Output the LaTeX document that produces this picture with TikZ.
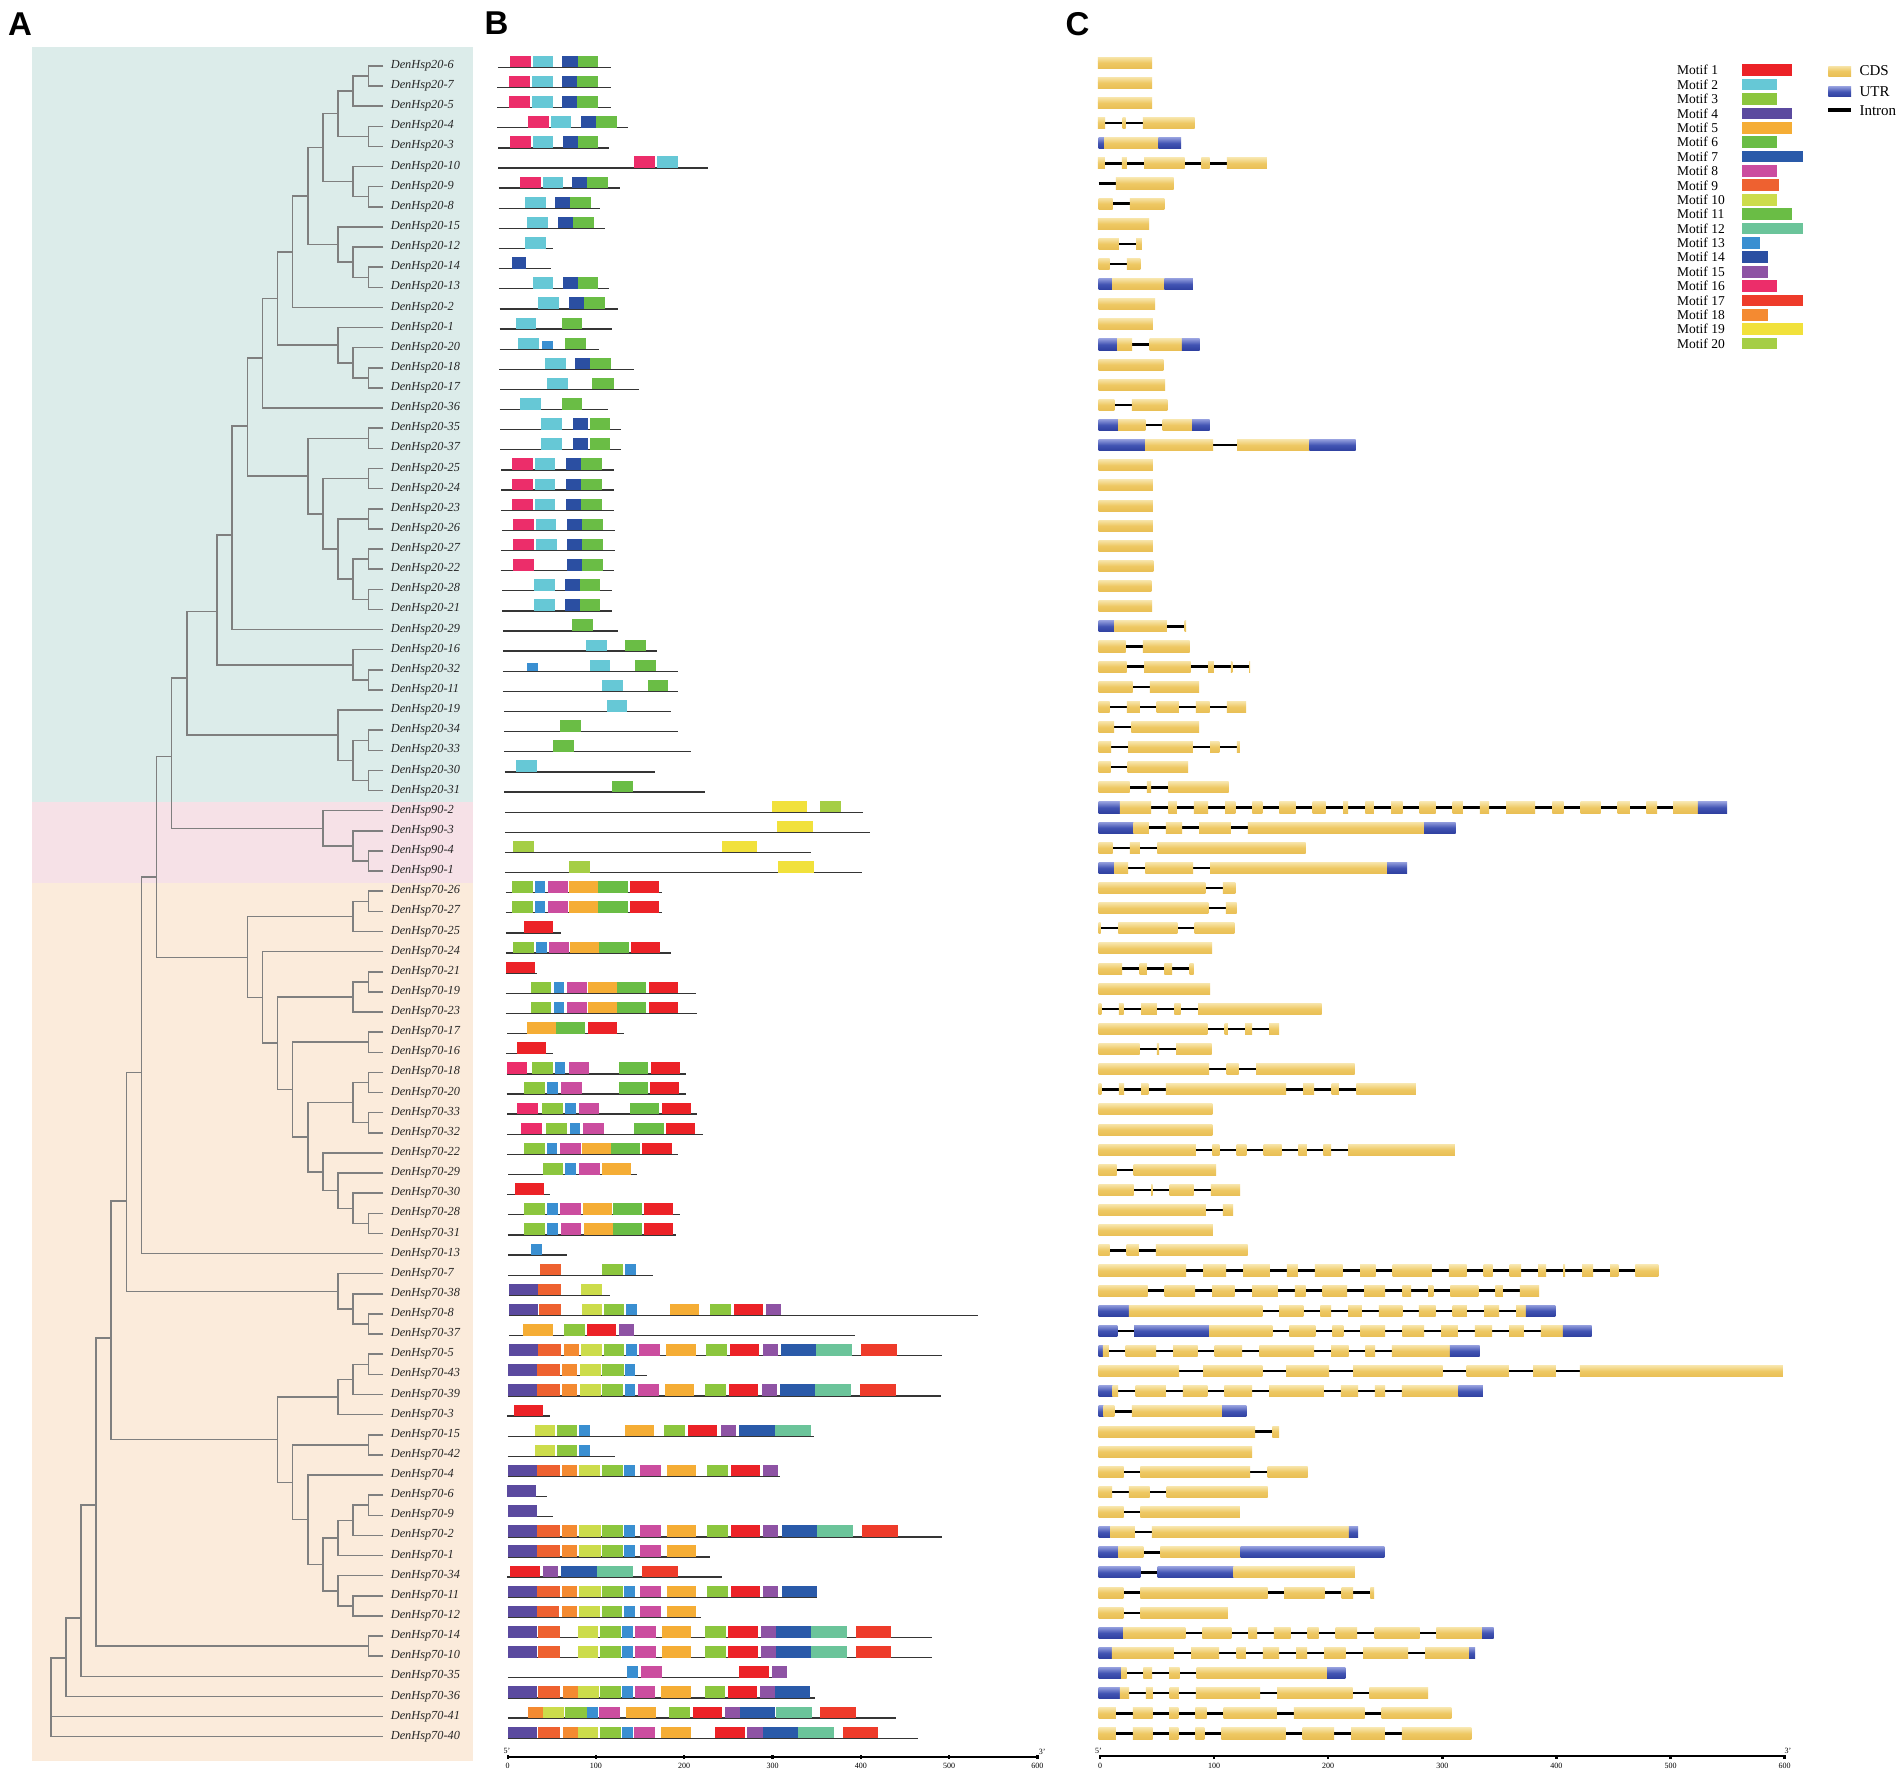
\documentclass[tikz,border=0pt]{standalone}
\usepackage{fontspec}
\setmainfont{Liberation Serif}
\setsansfont{Liberation Sans}
\definecolor{cP}{HTML}{EC2D6A}
\definecolor{cC}{HTML}{66C8D6}
\definecolor{cN}{HTML}{2B4FA2}
\definecolor{cG}{HTML}{6ABD45}
\definecolor{cB}{HTML}{3A8FD1}
\definecolor{cY}{HTML}{F1E13B}
\definecolor{cYG}{HTML}{A5CE45}
\definecolor{cL}{HTML}{8CC63E}
\definecolor{cM}{HTML}{CB4D9F}
\definecolor{cO}{HTML}{F5AD35}
\definecolor{cR}{HTML}{EC2227}
\definecolor{cRs}{HTML}{EE3B2A}
\definecolor{cO9}{HTML}{EE6130}
\definecolor{cO18}{HTML}{F48A31}
\definecolor{cI}{HTML}{5B4A9F}
\definecolor{cPU}{HTML}{8E53A4}
\definecolor{cDB}{HTML}{2A5AA9}
\definecolor{cT}{HTML}{6BC49A}
\definecolor{cYL}{HTML}{CCDC4B}
\definecolor{cdsT}{HTML}{F7E4A8}
\definecolor{cdsM}{HTML}{EEC863}
\definecolor{cdsB}{HTML}{E9BF55}
\definecolor{utrT}{HTML}{8F9ADB}
\definecolor{utrM}{HTML}{4254B3}
\definecolor{utrB}{HTML}{2F40A0}
\definecolor{bgA}{HTML}{DCECEA}
\definecolor{bgB}{HTML}{F6E1E7}
\definecolor{bgC}{HTML}{FBEBDB}
\definecolor{treeg}{HTML}{7F7F7F}
\definecolor{labc}{HTML}{262626}
\definecolor{blinec}{HTML}{353535}
\tikzset{
  tree/.style={draw=treeg, line width=1.5pt, line join=miter},
  lab/.style={anchor=west, inner sep=0pt, font=\fontsize{12.3pt}{14pt}\selectfont\itshape, text=labc, text height=8.1pt, text depth=0pt},
  bline/.style={draw=blinec, line width=1.3pt},
  intron/.style={draw=black, line width=2.4pt},
  exC/.style={top color=cdsT, bottom color=cdsB, middle color=cdsM},
  exU/.style={top color=utrT, bottom color=utrB, middle color=utrM},
  axisline/.style={draw=black, line width=1.6pt},
  ticklab/.style={anchor=north, inner sep=0pt, font=\fontsize{8pt}{9pt}\selectfont},
  endlab/.style={anchor=base west, inner sep=0pt, font=\fontsize{8pt}{9pt}\selectfont},
  panel/.style={anchor=base west, inner sep=0pt, font=\fontsize{33pt}{36pt}\selectfont\sffamily\bfseries},
  leglab/.style={anchor=west, inner sep=0pt, font=\fontsize{13.5pt}{15pt}\selectfont},
  leglabb/.style={anchor=west, inner sep=0pt, font=\fontsize{15pt}{17pt}\selectfont},
}
\newcommand{\tn}[5]{\draw[tree] (#3,#2) -- (#1,#2) -- (#1,#4) -- (#5,#4);}
\newcommand{\brow}[4]{%
  \draw[bline] (#2,#1+0.147) -- (#3,#1+0.147);
  \foreach \s/\e/\c in {#4}{\fill[fill=\c] (\s,#1-0.425) rectangle (\e,#1+0.147);}%
}
\newcommand{\crow}[4]{%
  \draw[intron] (#2,#1-0.085) -- (#3,#1-0.085);
  \foreach \t/\s/\e in {#4}{\edef\exsty{ex\t}\expandafter\path\expandafter[\exsty] (\s,#1-0.36) rectangle (\e,#1+0.19);}%
}
\begin{document}
\begin{tikzpicture}[x=1pt,y=-1pt]
\path[use as bounding box, fill=white] (0,0) rectangle (1904,1775);
% panel letters
\node[panel] (pA) at (8,35.6) {A};
\node[panel] (pB) at (484.5,34.8) {B};
\node[panel] (pC) at (1065.5,35) {C};
% backgrounds of panel A
\fill[bgA] (32,46.7) rectangle (472.7,801.5);
\fill[bgB] (32,801.5) rectangle (472.7,883);
\fill[bgC] (32,883) rectangle (472.7,1760.6);
% ---------------- tree ----------------
\begin{scope}[x=-15.12pt, xshift=383.4pt, y=-20.13pt, yshift=-65.9pt]
\tn{1}{0}{0}{1}{0}
\tn{2}{0.5}{1}{2}{0}
\tn{1}{3}{0}{4}{0}
\tn{3}{1.25}{2}{3.5}{1}
\tn{1}{6}{0}{7}{0}
\tn{2}{5}{0}{6.5}{1}
\tn{4}{2.375}{3}{5.75}{2}
\tn{1}{10}{0}{11}{0}
\tn{2}{9}{0}{10.5}{1}
\tn{3}{8}{0}{9.75}{2}
\tn{5}{4.0625}{4}{8.875}{3}
\tn{6}{6.47}{5}{12}{0}
\tn{1}{15}{0}{16}{0}
\tn{2}{14}{0}{15.5}{1}
\tn{3}{13}{0}{14.75}{2}
\tn{7}{9.235}{6}{13.875}{3}
\tn{8}{11.555}{7}{17}{0}
\tn{1}{18}{0}{19}{0}
\tn{1}{20}{0}{21}{0}
\tn{1}{22}{0}{23}{0}
\tn{1}{24}{0}{25}{0}
\tn{1}{26}{0}{27}{0}
\tn{2}{24.5}{1}{26.5}{1}
\tn{3}{22.5}{1}{25.5}{2}
\tn{4}{20.5}{1}{24}{3}
\tn{5}{18.5}{1}{22.25}{4}
\tn{9}{14.5}{8}{20.375}{5}
\tn{10}{17.9}{9}{28}{0}
\tn{1}{30}{0}{31}{0}
\tn{2}{29}{0}{30.5}{1}
\tn{11}{23.3}{10}{29.75}{2}
\tn{1}{33}{0}{34}{0}
\tn{1}{35}{0}{36}{0}
\tn{2}{33.5}{1}{35.5}{1}
\tn{3}{32}{0}{34.5}{2}
\tn{13}{27.1}{11}{33.25}{3}
\tn{1}{39}{0}{40}{0}
\tn{2}{38}{0}{39.5}{1}
\tn{4}{37}{0}{38.75}{2}
\tn{14}{30.4}{13}{37.875}{4}
\tn{1}{41}{0}{42}{0}
\tn{2}{41.5}{1}{43}{0}
\tn{1}{45}{0}{46}{0}
\tn{2}{45.5}{1}{47}{0}
\tn{1}{48}{0}{49}{0}
\tn{1}{50}{0}{51}{0}
\tn{1}{52}{0}{53}{0}
\tn{2}{50.5}{1}{52.5}{1}
\tn{1}{57}{0}{58}{0}
\tn{2}{56}{0}{57.5}{1}
\tn{3}{55}{0}{56.75}{2}
\tn{4}{54}{0}{55.875}{3}
\tn{5}{51.5}{2}{54.94}{4}
\tn{6}{48.5}{1}{53.22}{5}
\tn{7}{46.25}{2}{50.86}{6}
\tn{8}{44}{0}{48.55}{7}
\tn{9}{42.25}{2}{46.28}{8}
\tn{15}{34.3}{14}{44.3}{9}
\tn{16}{40.3}{15}{59}{0}
\tn{1}{62}{0}{63}{0}
\tn{2}{61}{0}{62.5}{1}
\tn{3}{60}{0}{61.75}{2}
\tn{17}{50}{16}{60.875}{3}
\tn{1}{64}{0}{65}{0}
\tn{2}{64.5}{1}{66}{0}
\tn{3}{65.25}{2}{67}{0}
\tn{1}{68}{0}{69}{0}
\tn{1}{71}{0}{72}{0}
\tn{2}{71.5}{1}{73}{0}
\tn{3}{72.25}{2}{74}{0}
\tn{2}{76}{0}{77}{0}
\tn{3}{75}{0}{76.5}{2}
\tn{4}{73.125}{3}{75.75}{3}
\tn{5}{70}{0}{74.44}{4}
\tn{6}{68.5}{1}{72.22}{5}
\tn{7}{66.125}{3}{70.36}{6}
\tn{18}{56.4}{17}{68.24}{7}
\tn{1}{78}{0}{79}{0}
\tn{19}{63.2}{18}{78.5}{1}
\tn{20}{71.5}{19}{80}{0}
\tn{21}{77.1}{20}{81}{0}
\draw[tree] (21,79.1) -- (22,79.1) -- (22,83) -- (0,83);
\draw[tree] (22,82) -- (0,82);
\end{scope}
% ---------------- leaf labels ----------------
\begin{scope}[y=-20.13pt, yshift=-64.4pt]
\foreach \r/\n in {0/20-6,1/20-7,2/20-5,3/20-4,4/20-3,5/20-10,6/20-9,7/20-8,8/20-15,9/20-12,10/20-14,11/20-13,12/20-2,13/20-1,14/20-20,15/20-18,16/20-17,17/20-36,18/20-35,19/20-37,20/20-25,21/20-24,22/20-23,23/20-26,24/20-27,25/20-22,26/20-28,27/20-21,28/20-29,29/20-16,30/20-32,31/20-11,32/20-19,33/20-34,34/20-33,35/20-30,36/20-31,37/90-2,38/90-3,39/90-4,40/90-1,41/70-26,42/70-27,43/70-25,44/70-24,45/70-21,46/70-19,47/70-23,48/70-17,49/70-16,50/70-18,51/70-20,52/70-33,53/70-32,54/70-22,55/70-29,56/70-30,57/70-28,58/70-31,59/70-13,60/70-7,61/70-38,62/70-8,63/70-37,64/70-5,65/70-43,66/70-39,67/70-3,68/70-15,69/70-42,70/70-4,71/70-6,72/70-9,73/70-2,74/70-1,75/70-34,76/70-11,77/70-12,78/70-14,79/70-10,80/70-35,81/70-36,82/70-41,83/70-40}
  {\node[lab] (l\r) at (390.7,\r) {DenHsp\n};}
\end{scope}
% ---------------- panel B: motifs ----------------
\begin{scope}[x=0.36996pt, xshift=480pt, y=-20.13pt, yshift=-64.4pt]
\brow{0}{48}{355}{80/137/cP,142/198/cC,222/265/cN,265/320/cG}
\brow{1}{47}{353}{78/135/cP,141/197/cC,222/263/cN,263/319/cG}
\brow{2}{47}{353}{78/135/cP,141/197/cC,222/263/cN,263/319/cG}
\brow{3}{47}{400}{130/186/cP,191/247/cC,272/313/cN,313/369/cG}
\brow{4}{49}{350}{80/137/cP,142/198/cC,224/265/cN,265/320/cG}
\brow{5}{49}{615}{417/474/cP,479/535/cC}
\brow{6}{50}{378}{107/164/cP,169/225/cC,249/290/cN,290/345/cG}
\brow{7}{50}{325}{122/178/cC,203/243/cN,243/299/cG}
\brow{8}{50}{337}{128/184/cC,212/252/cN,252/308/cG}
\brow{9}{50}{198}{122/178/cC}
\brow{10}{50}{192}{86/125/cN}
\brow{11}{51}{349}{142/198/cC,224/265/cN,265/320/cG}
\brow{12}{53}{372}{158/214/cC,241/282/cN,282/338/cG}
\brow{13}{53}{358}{96/152/cC,222/277/cG}
\brow{14}{53}{321}{104/160/cC,231/287/cG}
\fill[cB] (167,14-0.25) rectangle (197,14+0.147);
\brow{15}{52}{417}{176/232/cC,257/297/cN,297/353/cG}
\brow{16}{55}{430}{182/239/cC,304/361/cG}
\brow{17}{53}{345}{109/165/cC,222/277/cG}
\brow{18}{55}{381}{165/222/cC,252/293/cN,296/352/cG}
\brow{19}{55}{381}{165/222/cC,251/292/cN,296/352/cG}
\brow{20}{57}{361}{87/142/cP,148/204/cC,232/273/cN,273/330/cG}
\brow{21}{57}{361}{87/142/cP,148/204/cC,232/273/cN,273/330/cG}
\brow{22}{57}{361}{87/142/cP,148/204/cC,232/273/cN,273/330/cG}
\brow{23}{59}{364}{88/145/cP,150/206/cC,234/275/cN,275/332/cG}
\brow{24}{58}{365}{89/146/cP,151/207/cC,236/277/cN,277/333/cG}
\brow{25}{56}{363}{89/146/cP,235/277/cN,277/333/cG}
\brow{26}{60}{358}{146/202/cC,229/270/cN,270/325/cG}
\brow{27}{60}{358}{146/202/cC,229/270/cN,270/325/cG}
\brow{28}{62}{373}{249/305/cG}
\brow{29}{62}{478}{287/343/cC,392/449/cG}
\brow{30}{62}{535}{297/352/cC,420/477/cG}
\fill[cB] (126,30-0.25) rectangle (156,30+0.147);
\brow{31}{62}{535}{331/387/cC,453/509/cG}
\brow{32}{65}{515}{342/398/cC}
\brow{33}{65}{535}{217/273/cG}
\brow{34}{65}{569}{198/254/cG}
\brow{35}{67}{474}{97/153/cC}
\brow{36}{66}{609}{358/414/cG}
\brow{37}{68}{1035}{788/884/cY,918/975/cYG}
\brow{38}{68}{1053}{803/900/cY}
\brow{39}{68}{895}{90/146/cYG,653/750/cY}
\brow{40}{68}{1033}{241/297/cYG,806/903/cY}
\brow{41}{70}{491}{87/142/cL,148/177/cB,183/238/cM,241/319/cO,319/399/cG,405/485/cR}
\brow{42}{70}{491}{87/142/cL,148/177/cB,183/238/cM,241/319/cO,319/399/cG,405/485/cR}
\brow{43}{70}{218}{120/198/cR}
\brow{44}{70}{515}{89/145/cL,150/180/cB,186/241/cM,243/322/cO,322/402/cG,408/487/cR}
\brow{45}{70}{155}{70/149/cR}
\brow{46}{70}{583}{137/193/cL,199/228/cB,234/289/cM,292/370/cO,370/450/cG,456/535/cR}
\brow{47}{70}{586}{137/193/cL,199/228/cB,234/290/cM,292/370/cO,370/450/cG,456/535/cR}
\brow{48}{73}{390}{126/205/cO,205/285/cG,291/370/cR}
\brow{49}{71}{196}{100/179/cR}
\brow{50}{72}{558}{72/128/cP,141/196/cL,202/230/cB,240/295/cM,376/455/cG,461/540/cR}
\brow{51}{72}{558}{119/175/cL,181/211/cB,220/276/cM,375/455/cG,460/539/cR}
\brow{52}{74}{586}{100/156/cP,168/223/cL,230/259/cB,268/322/cM,406/485/cG,491/570/cR}
\brow{53}{74}{602}{112/168/cP,179/235/cL,242/270/cB,278/334/cM,417/496/cG,502/581/cR}
\brow{54}{74}{535}{118/175/cL,180/209/cB,216/272/cM,275/354/cO,354/433/cG,439/518/cR}
\brow{55}{77}{423}{170/225/cL,231/260/cB,267/323/cM,330/408/cO}
\brow{56}{74}{190}{95/174/cR}
\brow{57}{75}{540}{119/175/cL,181/210/cB,217/273/cM,279/357/cO,359/438/cG,443/522/cR}
\brow{58}{75}{530}{120/176/cL,182/211/cB,218/274/cM,281/359/cO,360/439/cG,444/523/cR}
\brow{59}{77}{236}{138/167/cB}
\brow{60}{77}{468}{162/220/cO9,331/387/cL,392/421/cB}
\brow{61}{78}{352}{78/158/cI,158/218/cO9,274/330/cYL}
\brow{62}{78}{1345}{78/158/cI,160/220/cO9,275/331/cYL,334/390/cL,395/423/cB,514/593/cO,622/679/cL,687/765/cR,772/813/cPU}
\brow{63}{78}{1013}{117/196/cO,226/283/cL,289/368/cR,376/417/cPU}
\brow{64}{78}{1250}{78/158/cI,158/218/cO9,226/267/cO18,273/330/cYL,334/390/cL,395/423/cB,430/487/cM,504/583/cO,611/668/cL,676/754/cR,764/805/cPU,813/908/cDB,908/1005/cT,1030/1127/cRs}
\brow{65}{76}{452}{76/155/cI,155/215/cO9,222/263/cO18,270/327/cYL,331/388/cL,392/420/cB}
\brow{66}{75}{1247}{75/155/cI,155/215/cO9,222/263/cO18,270/326/cYL,330/387/cL,391/420/cB,427/483/cM,500/579/cO,609/665/cL,672/751/cR,761/802/cPU,810/905/cDB,905/1002/cT,1027/1124/cRs}
\brow{67}{73}{189}{92/171/cR}
\brow{68}{75}{903}{148/204/cYL,207/263/cL,268/296/cB,393/471/cO,498/554/cL,562/641/cR,651/691/cPU,701/798/cDB,798/895/cT}
\brow{69}{75}{366}{148/204/cYL,207/263/cL,268/296/cB}
\brow{70}{75}{812}{75/153/cI,155/215/cO9,222/263/cO18,268/325/cYL,330/386/cL,390/419/cB,433/489/cM,506/585/cO,614/670/cL,678/756/cR,766/806/cPU}
\brow{71}{73}{180}{73/151/cI}
\brow{72}{75}{198}{75/154/cI}
\brow{73}{75}{1250}{75/154/cI,155/215/cO9,222/263/cO18,268/326/cYL,330/386/cL,390/420/cB,432/488/cM,506/585/cO,613/670/cL,678/756/cR,766/806/cPU,815/911/cDB,911/1007/cT,1033/1129/cRs}
\brow{74}{75}{622}{75/154/cI,155/215/cO9,222/263/cO18,268/326/cYL,330/386/cL,390/420/cB,432/488/cM,506/585/cO}
\brow{75}{73}{655}{82/161/cR,171/212/cPU,219/315/cDB,315/413/cT,438/534/cRs}
\brow{76}{75}{910}{75/154/cI,155/215/cO9,222/263/cO18,268/326/cYL,330/386/cL,390/419/cB,432/488/cM,506/585/cO,613/670/cL,678/756/cR,766/806/cPU,815/910/cDB}
\brow{77}{75}{597}{75/153/cI,154/214/cO9,221/262/cO18,268/325/cYL,329/385/cL,389/418/cB,432/488/cM,506/584/cO}
\brow{78}{75}{1222}{75/155/cI,157/216/cO9,264/320/cYL,323/380/cL,384/413/cB,418/475/cM,492/571/cO,608/665/cL,671/751/cR,759/800/cPU,800/895/cDB,895/992/cT,1015/1112/cRs}
\brow{79}{75}{1222}{75/155/cI,157/216/cO9,264/320/cYL,323/380/cL,384/413/cB,418/475/cM,492/571/cO,608/665/cL,671/751/cR,759/800/cPU,800/895/cDB,895/992/cT,1015/1112/cRs}
\brow{80}{75}{828}{398/427/cB,435/491/cM,701/780/cR,789/829/cPU}
\brow{81}{75}{905}{75/155/cI,158/217/cO9,224/265/cO18,265/321/cYL,323/381/cL,385/414/cB,418/474/cM,490/570/cO,607/663/cL,670/750/cR,757/798/cPU,798/893/cDB}
\brow{82}{75}{1125}{130/170/cO18,170/228/cYL,230/288/cL,290/320/cB,322/378/cM,395/475/cO,512/568/cL,575/655/cR,662/703/cPU,703/798/cDB,800/897/cT,918/1015/cRs}
\brow{83}{75}{1185}{75/155/cI,157/216/cO9,223/264/cO18,264/320/cYL,323/380/cL,384/413/cB,417/473/cM,490/570/cO,636/716/cR,723/765/cPU,765/860/cDB,860/958/cT,980/1077/cRs}
\end{scope}
% ---------------- panel C: gene structures ----------------
\begin{scope}[x=0.36996pt, xshift=1080pt, y=-20.13pt, yshift=-64.4pt]
\crow{0}{48}{195}{C/48/195}
\crow{1}{48}{195}{C/48/195}
\crow{2}{48}{195}{C/48/195}
\crow{3}{48}{310}{C/48/68,C/115/123,C/170/310}
\crow{4}{50}{273}{U/50/66,C/66/212,U/212/273}
\crow{5}{48}{505}{C/48/67,C/113/127,C/173/283,C/328/350,C/397/505}
\crow{6}{50}{253}{C/97/253}
\crow{7}{50}{228}{C/50/88,C/135/228}
\crow{8}{48}{187}{C/48/187}
\crow{9}{50}{167}{C/50/105,C/152/167}
\crow{10}{50}{163}{C/50/80,C/127/163}
\crow{11}{50}{305}{U/50/87,C/87/228,U/228/305}
\crow{12}{50}{203}{C/50/203}
\crow{13}{50}{197}{C/50/197}
\crow{14}{50}{323}{U/50/101,C/101/141,C/188/275,U/275/323}
\crow{15}{50}{225}{C/50/225}
\crow{16}{50}{230}{C/50/230}
\crow{17}{50}{236}{C/50/93,C/140/236}
\crow{18}{50}{350}{U/50/103,C/103/177,C/223/303,U/303/350}
\crow{19}{50}{745}{U/50/176,C/176/360,C/425/620,U/620/745}
\crow{20}{50}{197}{C/50/197}
\crow{21}{50}{197}{C/50/197}
\crow{22}{50}{197}{C/50/197}
\crow{23}{50}{197}{C/50/197}
\crow{24}{50}{197}{C/50/197}
\crow{25}{50}{198}{C/50/198}
\crow{26}{50}{193}{C/50/193}
\crow{27}{50}{195}{C/50/195}
\crow{28}{50}{287}{U/50/93,C/93/235,C/283/287}
\crow{29}{50}{296}{C/50/123,C/170/296}
\crow{30}{50}{460}{C/50/126,C/173/299,C/346/362,C/408/412,C/457/460}
\crow{31}{50}{322}{C/50/142,C/189/322}
\crow{32}{50}{449}{C/50/80,C/127/162,C/207/267,C/313/350,C/397/449}
\crow{33}{50}{322}{C/50/92,C/139/322}
\crow{34}{50}{432}{C/50/84,C/130/305,C/352/377,C/424/432}
\crow{35}{50}{292}{C/50/83,C/129/292}
\crow{36}{50}{402}{C/50/134,C/181/192,C/239/402}
\crow{37}{50}{1749}{U/50/108,C/108/192,C/239/262,C/308/346,C/392/420,C/466/493,C/539/583,C/629/664,C/711/725,C/771/794,C/841/872,C/918/961,C/1007/1035,C/1081/1106,C/1152/1230,C/1277/1307,C/1353/1407,C/1453/1486,C/1531/1560,C/1603/1670,U/1670/1749}
\crow{38}{50}{1015}{U/50/145,C/145/186,C/232/276,C/322/408,C/454/930,U/930/1015}
\crow{39}{50}{610}{C/50/88,C/135/162,C/209/610}
\crow{40}{50}{884}{U/50/93,C/93/130,C/177/306,C/352/830,U/830/884}
\crow{41}{50}{420}{C/50/339,C/386/420}
\crow{42}{50}{423}{C/50/347,C/394/423}
\crow{43}{50}{417}{C/50/56,C/104/263,C/310/417}
\crow{44}{50}{357}{C/50/357}
\crow{45}{50}{307}{C/50/114,C/161/181,C/228/249,C/296/307}
\crow{46}{50}{352}{C/50/352}
\crow{47}{50}{653}{C/50/58,C/105/118,C/165/208,C/255/272,C/319/653}
\crow{48}{50}{538}{C/50/344,C/391/400,C/446/465,C/511/538}
\crow{49}{50}{356}{C/50/161,C/208/214,C/260/356}
\crow{50}{50}{742}{C/50/349,C/396/429,C/476/742}
\crow{51}{50}{908}{C/50/58,C/105/119,C/165/185,C/232/557,C/603/633,C/680/700,C/747/908}
\crow{52}{50}{358}{C/50/358}
\crow{53}{50}{358}{C/50/358}
\crow{54}{50}{1013}{C/50/313,C/358/377,C/423/450,C/496/545,C/590/613,C/658/679,C/725/1013}
\crow{55}{50}{368}{C/50/99,C/145/368}
\crow{56}{50}{433}{C/50/145,C/192/196,C/242/307,C/354/433}
\crow{57}{50}{414}{C/50/340,C/386/414}
\crow{58}{50}{359}{C/50/359}
\crow{59}{50}{453}{C/50/80,C/126/159,C/205/453}
\crow{60}{50}{1563}{C/50/287,C/333/395,C/441/513,C/559/589,C/635/710,C/757/799,C/845/951,C/997/1045,C/1091/1115,C/1161/1192,C/1238/1260,C/1306/1311,C/1357/1387,C/1433/1455,C/1501/1563}
\crow{61}{50}{1241}{C/50/183,C/229/311,C/357/418,C/465/535,C/581/610,C/656/722,C/768/825,C/871/895,C/941/955,C/1001/1077,C/1123/1143,C/1189/1241}
\crow{62}{50}{1285}{U/50/132,C/132/493,C/538/604,C/650/679,C/725/762,C/808/871,C/916/961,C/1007/1046,C/1092/1133,C/1179/1205,U/1205/1285}
\crow{63}{50}{1383}{U/50/101,U/146/349,C/349/520,C/566/636,C/682/712,C/758/825,C/871/930,C/976/1021,C/1067/1114,C/1160/1200,C/1246/1305,U/1305/1383}
\crow{64}{50}{1080}{U/50/62,C/62/78,C/123/206,C/252/318,C/364/438,C/485/633,C/679/726,C/771/798,C/843/1000,U/1000/1080}
\crow{65}{50}{1900}{C/50/268,C/333/493,C/557/673,C/738/980,C/1045/1159,C/1225/1286,C/1351/1900}
\crow{66}{50}{1089}{U/50/88,C/88/103,C/150/232,C/278/344,C/390/465,C/511/659,C/705/752,C/797/825,C/870/1023,U/1023/1089}
\crow{67}{50}{450}{U/50/64,C/64/93,C/140/384,U/384/450}
\crow{68}{50}{538}{C/50/473,C/520/538}
\crow{69}{50}{465}{C/50/465}
\crow{70}{50}{615}{C/50/118,C/163/460,C/507/615}
\crow{71}{50}{507}{C/50/87,C/132/188,C/234/507}
\crow{72}{50}{432}{C/50/118,C/163/432}
\crow{73}{50}{752}{U/50/82,C/82/148,C/194/727,U/727/752}
\crow{74}{50}{823}{U/50/104,C/104/171,C/217/434,U/434/823}
\crow{75}{50}{743}{U/50/163,U/210/415,C/415/743}
\crow{76}{50}{795}{C/50/117,C/163/507,C/552/661,C/707/738,C/785/795}
\crow{77}{50}{400}{C/50/117,C/163/400}
\crow{78}{50}{1118}{U/50/117,C/117/285,C/331/409,C/455/479,C/524/569,C/615/645,C/691/749,C/796/918,C/963/1087,U/1087/1118}
\crow{79}{50}{1068}{U/50/86,C/86/254,C/300/376,C/423/448,C/494/538,C/584/614,C/660/718,C/765/887,C/933/1052,U/1052/1068}
\crow{80}{50}{717}{U/50/111,C/111/126,C/171/195,C/241/269,C/315/668,U/668/717}
\crow{81}{50}{941}{U/50/108,C/108/133,C/178/197,C/242/267,C/313/487,C/533/737,C/782/941}
\crow{82}{50}{1004}{C/50/97,C/143/196,C/241/266,C/312/342,C/388/532,C/578/769,C/815/1004}
\crow{83}{50}{1058}{C/50/97,C/143/196,C/241/266,C/312/336,C/382/556,C/602/687,C/733/824,C/870/1058}
\end{scope}
% ---------------- axes ----------------
\draw[axisline] (507.7,1756.7) -- (1037.3,1756.7);
\foreach \i/\t in {0/0,1/100,2/200,3/300,4/400,5/500,6/600}{
  \fill ({507.7+88.27*\i-1.2},1755.2) rectangle ++(2.4,4);
  \node[ticklab] (bt\i) at ({507.7+88.27*\i},1763) {\t};
}
\node[endlab] (b5) at (503.3,1753.5) {5'};
\node[endlab] (b3) at (1038.7,1754) {3'};
\draw[axisline] (1100,1756) -- (1784.6,1756);
\foreach \i/\t in {0/0,1/100,2/200,3/300,4/400,5/500,6/600}{
  \fill ({1100+114.1*\i-1.2},1754.5) rectangle ++(2.4,4);
  \node[ticklab] (ct\i) at ({1100+114.1*\i},1763) {\t};
}
\node[endlab] (c5) at (1094.8,1753) {5'};
\node[endlab] (c3) at (1784.3,1753.5) {3'};
% ---------------- legend ----------------
\foreach \i/\c/\w in {1/cR/50,2/cC/35.7,3/cL/35.7,4/cI/50,5/cO/50,6/cG/35.7,7/cDB/61,8/cM/35.7,9/cO9/37.7,10/cYL/35.7,11/cG/50,12/cT/61,13/cB/18.7,14/cN/26,15/cPU/26,16/cP/35.7,17/cRs/61,18/cO18/26,19/cY/61,20/cYG/35.7}{
  \node[leglab] (m\i) at (1677,{70.2+14.39*(\i-1)}) {Motif \i};
  \fill[fill=\c] (1741.7,{64.35+14.39*(\i-1)}) rectangle ++(\w,11.7);
}
\path[exC] (1828.3,66) rectangle (1851,76);
\path[exU] (1828.3,86.7) rectangle (1851,96.7);
\draw[black, line width=3.3pt] (1828.3,110) -- (1851,110);
\node[leglabb] (lcds) at (1859.3,70.7) {CDS};
\node[leglabb] (lutr) at (1859.3,91.7) {UTR};
\node[leglabb] (lint) at (1859.3,110.7) {Intron};
\end{tikzpicture}
\end{document}
